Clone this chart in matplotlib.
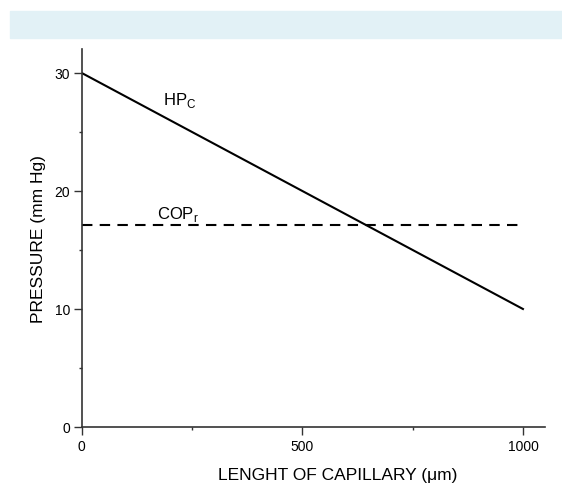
import matplotlib.pyplot as plt
from matplotlib.patches import Rectangle
from matplotlib.ticker import MultipleLocator

plt.rcParams['font.family'] = ['Liberation Sans', 'DejaVu Sans']

# capillary length (um) and pressures (mm Hg)
length = [0, 1000]
hp_c = [30, 10]
cop_r = [17.1, 17.1]

fig = plt.figure(figsize=(5.62, 4.85), dpi=100)

# light blue header band
fig.patches.append(Rectangle((10 / 562, 1 - 39 / 485), 1 - 10 / 562, 27 / 485,
                             transform=fig.transFigure, color='#e2f1f6', zorder=0))

ax = fig.add_axes([81.7 / 562, 1 - 428 / 485, (545 - 81.7) / 562, (428 - 50) / 485])

ax.plot(length, hp_c, color='black', lw=1.5)
ax.plot(length, cop_r, color='black', lw=1.5, dashes=(5, 3.5))

ax.text(184, 27.4, r'HP$_\mathregular{C}$', fontsize=12)
ax.text(170, 17.7, r'COP$_\mathregular{r}$', fontsize=12)

ax.set_xlim(0, 1050)
ax.set_ylim(0, 32.03)
ax.xaxis.set_major_locator(MultipleLocator(500))
ax.xaxis.set_minor_locator(MultipleLocator(250))
ax.yaxis.set_major_locator(MultipleLocator(10))
ax.yaxis.set_minor_locator(MultipleLocator(5))

for side in ['top', 'right']:
    ax.spines[side].set_visible(False)
for side in ['left', 'bottom']:
    ax.spines[side].set_color('#333333')
    ax.spines[side].set_linewidth(1.2)

ax.tick_params(which='major', length=5.5, width=1, pad=3, colors='#333333',
               labelsize=10, labelcolor='black')
ax.tick_params(which='minor', length=2.5, width=1, colors='#333333')

ax.set_xlabel('LENGHT OF CAPILLARY (\u03bcm)', fontsize=12.5)
ax.xaxis.set_label_coords(0.552, -0.105)
ax.set_ylabel('PRESSURE (mm Hg)', fontsize=12.5)
ax.yaxis.set_label_coords(-0.078, 0.5)

fig.savefig('out.png', dpi=100)
